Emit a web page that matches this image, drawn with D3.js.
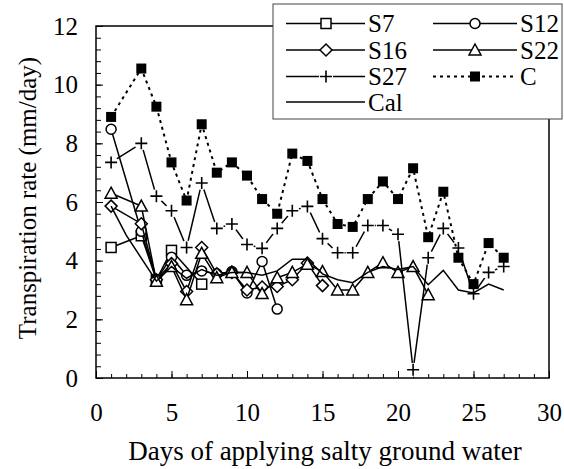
<!DOCTYPE html>
<html>
<head>
<meta charset="utf-8">
<script src="https://cdn.jsdelivr.net/npm/d3@7"></script>
<style>
  body { margin: 0; background: #fff; }
  svg { display: block; }
  svg text { font-family: "Liberation Serif", "Times New Roman", Times, serif; fill: #000; }
</style>
</head>
<body>
<div id="chart"></div>
<script>
// days of measurement, shared by every series (null = no reading that day)
var days = [1, 2, 3, 4, 5, 6, 7, 8, 9, 10, 11, 12, 13, 14, 15, 16, 17, 18, 19, 20, 21, 22, 23, 24, 25, 26, 27];

var S7  = [4.45, null, 4.85, 3.35, 4.35, null, 3.2];
var S12 = [8.48, null, 5.0, 3.35, 4.12, 3.5, 3.65, 3.55, 3.63, 2.9, 3.97, 2.35];
var S16 = [5.86, null, 5.26, 3.35, 3.9, 2.95, 4.45, 3.55, 3.6, 3.0, 3.1, 3.12, 3.35, 3.92, 3.15];
var S22 = [6.3, null, 5.86, 3.3, 3.8, 2.67, 4.25, 3.42, 3.6, 3.6, 2.88, 3.42, 3.6, 3.88, 3.63,
           3.0, 3.0, 3.6, 3.93, 3.6, 3.8, 2.84];
var S27 = [7.35, null, 8.0, 6.2, 5.7, 4.45, 6.65, 5.1, 5.25, 4.55, 4.42, 5.1, 5.7, 5.85, 4.75,
           4.27, 4.27, 5.2, 5.2, 4.9, 0.28, 4.1, 5.1, 4.43, 2.87, 3.6, 3.8];
var C   = [8.9, null, 10.55, 9.25, 7.35, 6.05, 8.65, 7.0, 7.35, 6.9, 6.1, 5.6, 7.65, 7.4, 6.1,
           5.25, 5.15, 6.1, 6.7, 6.1, 7.15, 4.8, 6.35, 4.1, 3.2, 4.6, 4.1];
var Cal = [5.86, 4.87, null, 3.3, 3.8, 3.4, 3.7, 3.5, 3.6, 3.6, 3.5, 3.65, 4.05, 4.05, 3.55,
           3.35, 3.25, 3.6, 3.8, 3.7, 3.8, 3.18, 3.67, 3.0, 2.9, 3.2, 3.0];

var xTicks = [0, 5, 10, 15, 20, 25, 30];
var yTicks = [0, 2, 4, 6, 8, 10, 12];

var series = [
    {name: "S7",  values: S7,  marker: "square"},
    {name: "S12", values: S12, marker: "circle"},
    {name: "S16", values: S16, marker: "diamond"},
    {name: "S22", values: S22, marker: "triangle"},
    {name: "S27", values: S27, marker: "plus"},
    {name: "C",   values: C,   marker: "filled", dash: "3,4"},
    {name: "Cal", values: Cal, marker: null}
];

var width = 564,
    height = 469;

var serif = "'Liberation Serif', 'Times New Roman', Times, serif";

var x = d3.scaleLinear().domain([0, 30]).range([96, 549]);
var y = d3.scaleLinear().domain([0, 12]).range([378, 26]);

var svg = d3.select("#chart").append("svg")
    .attr("width", width)
    .attr("height", height);

function cleanAxis(g) {
    g.attr("font-family", serif).attr("font-size", null);
    g.select(".domain").remove();
    g.selectAll(".tick line").attr("stroke", "#000").attr("stroke-width", 1);
    g.selectAll("text")
        .style("font-family", serif)
        .style("font-size", "25px")
        .attr("fill", "#000");
}

// minor ticks
svg.append("g")
    .attr("transform", "translate(0," + y(0) + ")")
    .call(d3.axisBottom(x).tickValues(d3.range(0, 31)).tickSize(-4).tickFormat(""))
    .call(cleanAxis);

svg.append("g")
    .attr("transform", "translate(" + x(0) + ",0)")
    .call(d3.axisLeft(y).tickValues(d3.range(0, 31).map(function(i) { return i * 0.4; }))
        .tickSize(-5).tickFormat(""))
    .call(cleanAxis);

// major ticks + labels
svg.append("g")
    .attr("transform", "translate(0," + y(0) + ")")
    .call(d3.axisBottom(x).tickValues(xTicks).tickSize(-7).tickPadding(25))
    .call(cleanAxis);

svg.append("g")
    .attr("transform", "translate(" + x(0) + ",0)")
    .call(d3.axisLeft(y).tickValues(yTicks).tickSize(-7).tickPadding(18))
    .call(cleanAxis);

// frame
svg.append("rect")
    .attr("x", x(0)).attr("y", y(12))
    .attr("width", x(30) - x(0)).attr("height", y(0) - y(12))
    .attr("fill", "none").attr("stroke", "#000").attr("stroke-width", 1.5);

function points(vals) {
    return vals.map(function(v, i) { return {x: days[i], y: v}; })
        .filter(function(p) { return p.y != null; });
}

function drawMarker(g, type) {
    if (type === "square") {
        g.append("rect").attr("x", -5).attr("y", -5).attr("width", 10).attr("height", 10)
            .attr("fill", "#fff").attr("stroke", "#000").attr("stroke-width", 1.5);
    } else if (type === "filled") {
        g.append("rect").attr("x", -5).attr("y", -5).attr("width", 10).attr("height", 10)
            .attr("fill", "#000");
    } else if (type === "circle") {
        g.append("circle").attr("r", 5)
            .attr("fill", "#fff").attr("stroke", "#000").attr("stroke-width", 1.5);
    } else if (type === "diamond") {
        g.append("path").attr("d", "M0,-6L6,0L0,6L-6,0Z")
            .attr("fill", "#fff").attr("stroke", "#000").attr("stroke-width", 1.5);
    } else if (type === "triangle") {
        g.append("path").attr("d", "M0,-6L6,5L-6,5Z")
            .attr("fill", "#fff").attr("stroke", "#000").attr("stroke-width", 1.5);
    } else if (type === "plus") {
        g.append("circle").attr("r", 7).attr("fill", "#fff");
        g.append("path").attr("d", "M-6,0H6M0,-6V6")
            .attr("stroke", "#000").attr("stroke-width", 1.6);
    }
}

var line = d3.line()
    .x(function(d) { return x(d.x); })
    .y(function(d) { return y(d.y); });

series.forEach(function(s) {
    var pts = points(s.values);
    svg.append("path")
        .datum(pts)
        .attr("d", line)
        .attr("fill", "none")
        .attr("stroke", "#000")
        .attr("stroke-width", s.dash ? 2 : 1.5)
        .attr("stroke-dasharray", s.dash || null);
    if (s.marker) {
        svg.append("g").selectAll("g")
            .data(pts)
            .enter().append("g")
            .attr("transform", function(d) { return "translate(" + x(d.x) + "," + y(d.y) + ")"; })
            .each(function() { drawMarker(d3.select(this), s.marker); });
    }
});

// axis titles
svg.append("text")
    .attr("x", 325).attr("y", 460)
    .attr("text-anchor", "middle")
    .style("font-family", serif)
    .style("font-size", "27px")
    .text("Days of applying salty ground water");

svg.append("text")
    .attr("transform", "translate(36,198) rotate(-90)")
    .attr("text-anchor", "middle")
    .style("font-family", serif)
    .style("font-size", "25px")
    .text("Transpiration rate (mm/day)");

// legend
var legend = svg.append("g");
legend.append("rect")
    .attr("x", 273).attr("y", 4).attr("width", 289).attr("height", 115)
    .attr("fill", "#fff").attr("stroke", "#444").attr("stroke-width", 1);

var legendPos = [
    {cx: 326, x1: 286, x2: 365, tx: 368, cy: 23.5},
    {cx: 475, x1: 433, x2: 517, tx: 520, cy: 23.5},
    {cx: 326, x1: 286, x2: 365, tx: 368, cy: 50},
    {cx: 475, x1: 433, x2: 517, tx: 520, cy: 50},
    {cx: 326, x1: 286, x2: 365, tx: 368, cy: 76.5},
    {cx: 475, x1: 433, x2: 517, tx: 520, cy: 76.5},
    {cx: 326, x1: 286, x2: 365, tx: 368, cy: 102}
];

series.forEach(function(s, i) {
    var p = legendPos[i];
    var g = legend.append("g");
    g.append("line")
        .attr("x1", p.x1).attr("x2", p.x2).attr("y1", p.cy).attr("y2", p.cy)
        .attr("stroke", "#000")
        .attr("stroke-width", s.dash ? 2 : 1.5)
        .attr("stroke-dasharray", s.dash || null);
    if (s.marker) {
        var m = g.append("g").attr("transform", "translate(" + p.cx + "," + p.cy + ")");
        drawMarker(m, s.marker);
    }
    g.append("text")
        .attr("x", p.tx).attr("y", p.cy + 8.5)
        .style("font-family", serif)
        .style("font-size", "25px")
        .text(s.name);
});
</script>
</body>
</html>
